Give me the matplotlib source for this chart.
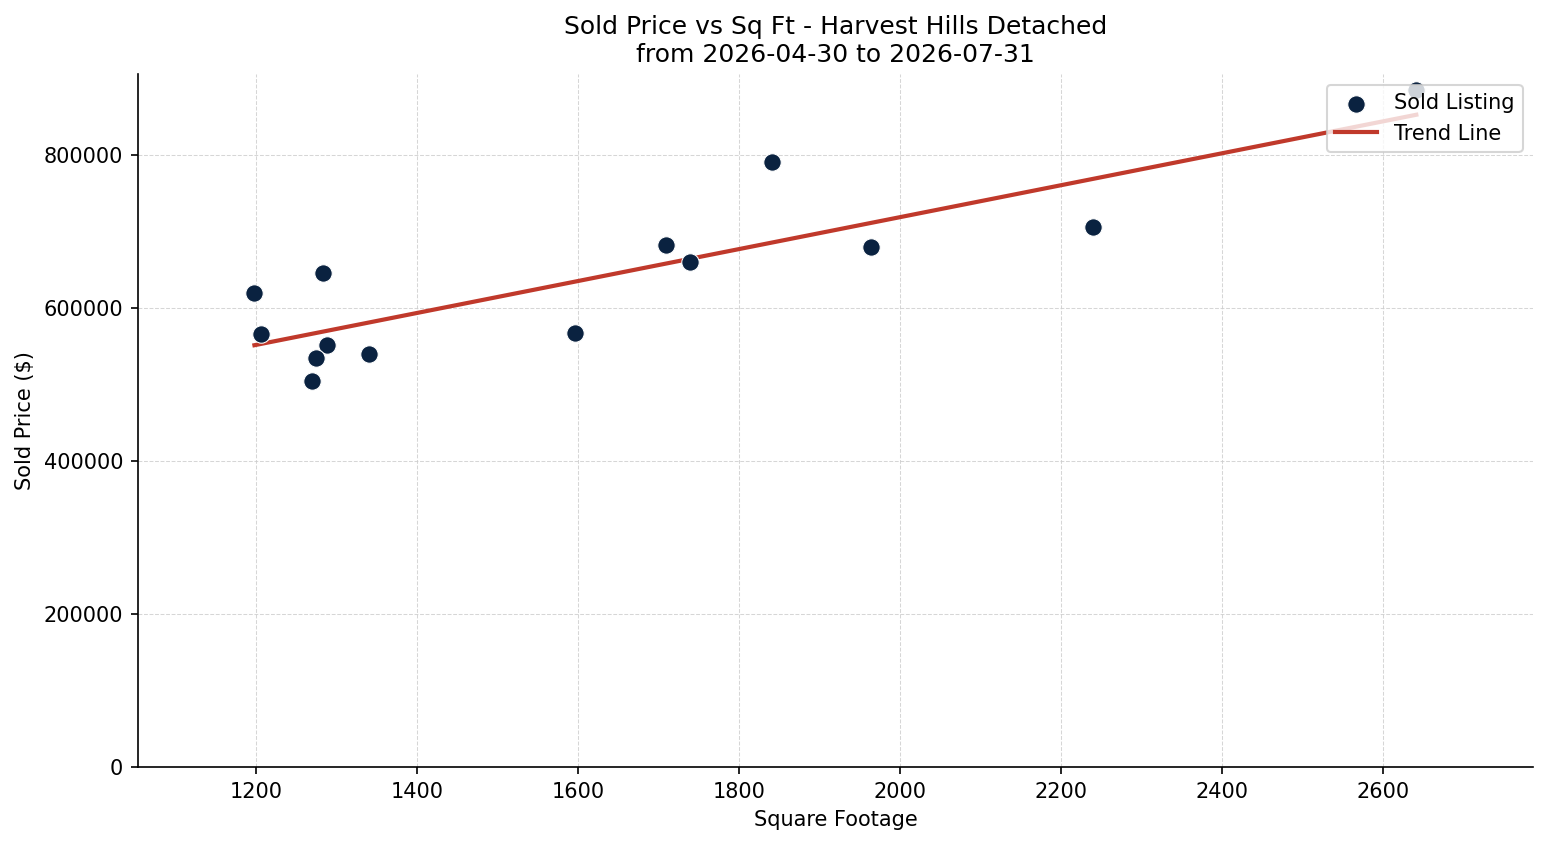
import numpy as np
import matplotlib
matplotlib.use("Agg")
import matplotlib.pyplot as plt

sqft = [1198, 1206, 1283, 1288, 1275, 1270, 1340, 1596, 1709, 1739, 1841, 1964, 2240, 2641]
price = [620000, 566000, 645000, 551000, 535000, 505000, 540000, 567000, 682000, 660000, 790000, 680000, 705000, 885000]

title = "Sold Price vs Sq Ft - Harvest Hills Detached\nfrom 2026-04-30 to 2026-07-31"

DPI = 150
fig, ax = plt.subplots(figsize=(1547 / DPI, 845 / DPI), dpi=DPI)

x = np.array(sqft, dtype=float)
y = np.array(price, dtype=float)
coef = np.polyfit(x, y, 1)
xs = np.array([x.min(), x.max()])

ax.scatter(x, y, s=70, color="#0a2240", edgecolors="white", linewidths=0.5,
           zorder=3, label="Sold Listing")
ax.plot(xs, np.polyval(coef, xs), color="#c0392b", linewidth=2, zorder=2,
        label="Trend Line")

ax.set_xlim(1053, 2786)
ax.set_ylim(0, 905000)
ax.set_xticks(np.arange(1200, 2601, 200))
ax.set_yticks(np.arange(0, 800001, 200000))
ax.tick_params(labelsize=10)

ax.grid(True, linestyle="--", linewidth=0.5, color="#cccccc", alpha=0.8)
ax.set_axisbelow(True)
for s in ["top", "right"]:
    ax.spines[s].set_visible(False)

ax.set_title(title, fontsize=12)
ax.set_xlabel("Square Footage", fontsize=10)
ax.set_ylabel("Sold Price ($)", fontsize=10)
ax.legend(loc="upper right", fontsize=10)

fig.subplots_adjust(left=0.089, right=0.991, top=0.912, bottom=0.092)
fig.savefig("out.png", dpi=DPI)
